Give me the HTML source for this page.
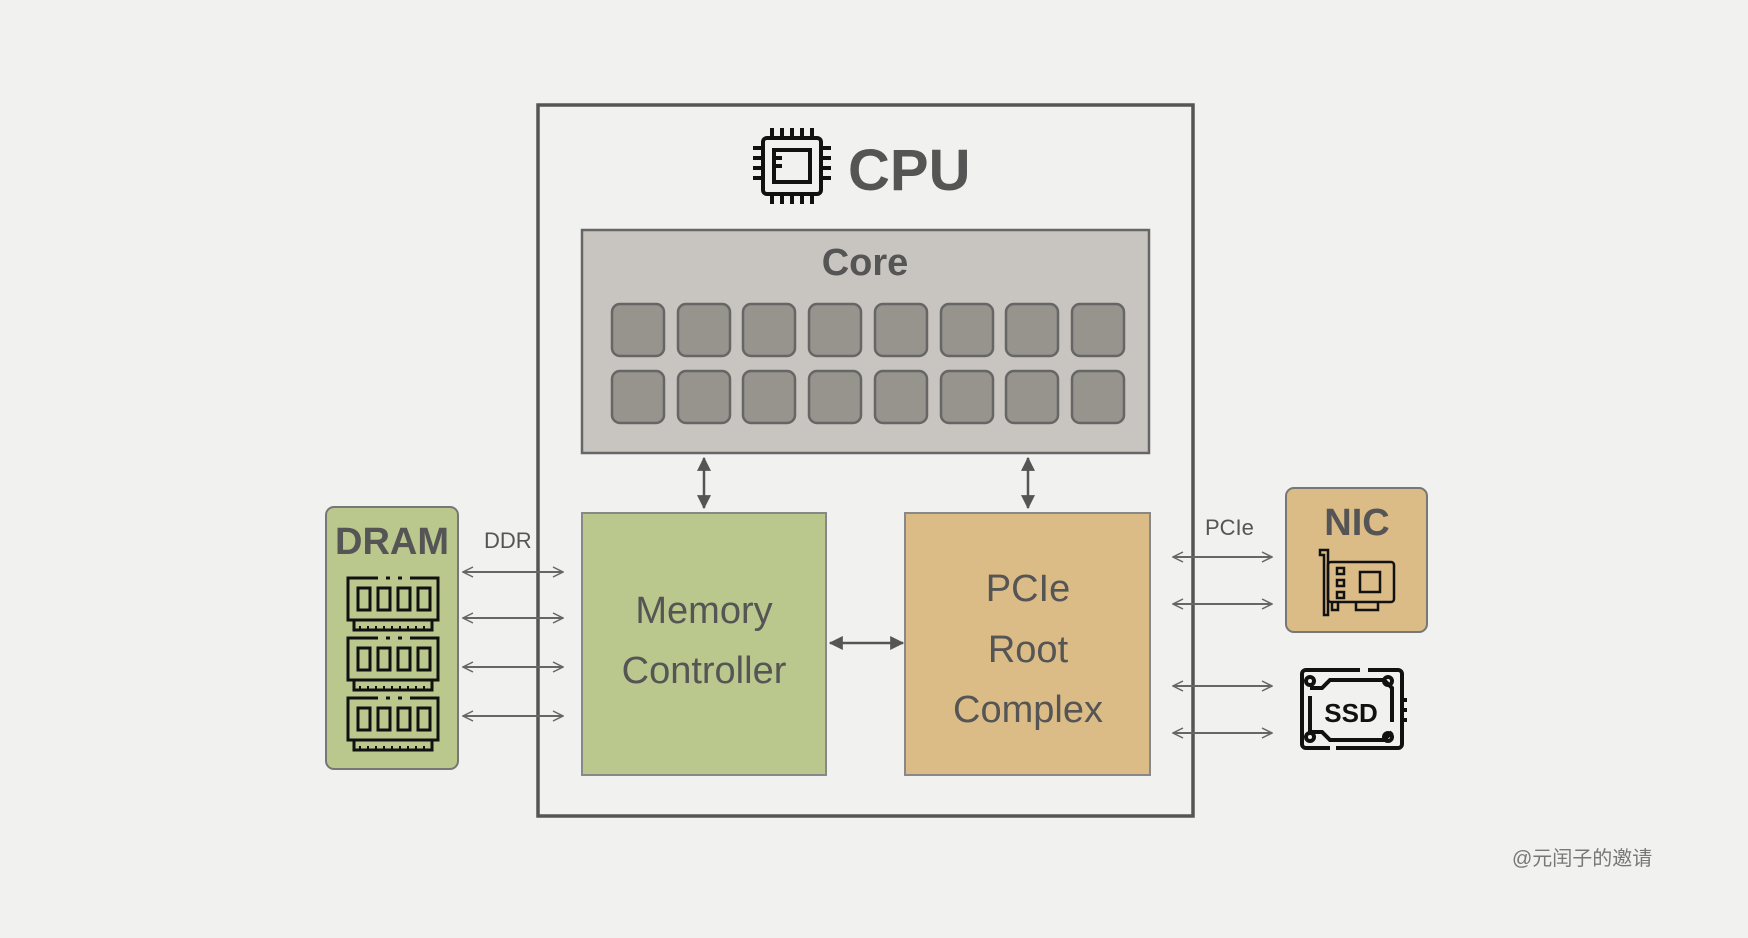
<!DOCTYPE html>
<html><head><meta charset="utf-8"><style>
html,body{margin:0;padding:0;background:#f1f1ef;}
svg{display:block}
text{font-family:"Liberation Sans","Noto Sans CJK SC",sans-serif;fill:#555;}
</style></head><body>
<svg width="1748" height="938" viewBox="0 0 1748 938" xmlns="http://www.w3.org/2000/svg">
<defs>
<marker id="o" viewBox="0 0 12 12" refX="11" refY="6" markerWidth="12" markerHeight="12" markerUnits="userSpaceOnUse" orient="auto-start-reverse"><path d="M1 1 L11 6 L1 11" fill="none" stroke="#666" stroke-width="1.5"/></marker>
<marker id="f" viewBox="0 0 12 12" refX="11" refY="6" markerWidth="14" markerHeight="14" markerUnits="userSpaceOnUse" orient="auto-start-reverse"><path d="M0 0 L12 6 L0 12 Z" fill="#555"/></marker>
<g id="ram">
<path d="M0 4 V0 H30 M38 0 H42 M50 0 H54 M62 0 H90 V42 H0 V4" fill="none" stroke="#111" stroke-width="3"/>
<rect x="10" y="10" width="12" height="22" fill="none" stroke="#111" stroke-width="3"/>
<rect x="30" y="10" width="12" height="22" fill="none" stroke="#111" stroke-width="3"/>
<rect x="50" y="10" width="12" height="22" fill="none" stroke="#111" stroke-width="3"/>
<rect x="70" y="10" width="12" height="22" fill="none" stroke="#111" stroke-width="3"/>
<path d="M6 42 V52 H84 V42" fill="none" stroke="#111" stroke-width="3"/>
<path d="M12 52 v-4 M20 52 v-4 M28 52 v-4 M36 52 v-4 M44 52 v-4 M52 52 v-4 M60 52 v-4 M68 52 v-4 M76 52 v-4" stroke="#111" stroke-width="2"/>
</g>
</defs>

<rect x="538" y="105" width="655" height="711" fill="none" stroke="#555" stroke-width="3.5"/>

<g stroke="#111" stroke-width="4" fill="none">
<rect x="763" y="138" width="58" height="56" rx="4"/>
<rect x="774" y="150" width="36" height="32"/>
<path d="M774 158 h8 M774 166 h8"/>
<path d="M772 128 v10 M782 128 v10 M792 128 v10 M802 128 v10 M812 128 v10 M772 194 v10 M782 194 v10 M792 194 v10 M802 194 v10 M812 194 v10 M753 148 h10 M753 158 h10 M753 168 h10 M753 178 h10 M821 148 h10 M821 158 h10 M821 168 h10 M821 178 h10"/>
</g>
<text x="848" y="190" font-size="58" font-weight="bold">CPU</text>

<rect x="582" y="230" width="567" height="223" fill="#c8c4bf" stroke="#666" stroke-width="2.5"/>
<text x="865" y="275" font-size="38" font-weight="bold" text-anchor="middle">Core</text>
<g fill="#97938d" stroke="#666" stroke-width="2.5">
<rect x="612" y="304" width="52" height="52" rx="8"/><rect x="678" y="304" width="52" height="52" rx="8"/><rect x="743" y="304" width="52" height="52" rx="8"/><rect x="809" y="304" width="52" height="52" rx="8"/><rect x="875" y="304" width="52" height="52" rx="8"/><rect x="941" y="304" width="52" height="52" rx="8"/><rect x="1006" y="304" width="52" height="52" rx="8"/><rect x="1072" y="304" width="52" height="52" rx="8"/>
<rect x="612" y="371" width="52" height="52" rx="8"/><rect x="678" y="371" width="52" height="52" rx="8"/><rect x="743" y="371" width="52" height="52" rx="8"/><rect x="809" y="371" width="52" height="52" rx="8"/><rect x="875" y="371" width="52" height="52" rx="8"/><rect x="941" y="371" width="52" height="52" rx="8"/><rect x="1006" y="371" width="52" height="52" rx="8"/><rect x="1072" y="371" width="52" height="52" rx="8"/>
</g>

<rect x="582" y="513" width="244" height="262" fill="#bac78d" stroke="#888" stroke-width="2"/>
<text x="704" y="623" font-size="38" text-anchor="middle">Memory</text>
<text x="704" y="683" font-size="38" text-anchor="middle">Controller</text>

<rect x="905" y="513" width="245" height="262" fill="#dbbc87" stroke="#888" stroke-width="2"/>
<text x="1028" y="601" font-size="38" text-anchor="middle">PCIe</text>
<text x="1028" y="662" font-size="38" text-anchor="middle">Root</text>
<text x="1028" y="722" font-size="38" text-anchor="middle">Complex</text>

<g stroke="#555" stroke-width="2.5">
<line x1="704" y1="458" x2="704" y2="508" marker-start="url(#f)" marker-end="url(#f)"/>
<line x1="1028" y1="458" x2="1028" y2="508" marker-start="url(#f)" marker-end="url(#f)"/>
<line x1="830" y1="643" x2="903" y2="643" marker-start="url(#f)" marker-end="url(#f)"/>
</g>

<rect x="326" y="507" width="132" height="262" rx="8" fill="#bac78d" stroke="#777" stroke-width="2"/>
<text x="392" y="554" font-size="38" font-weight="bold" text-anchor="middle">DRAM</text>
<use href="#ram" x="348" y="578"/>
<use href="#ram" x="348" y="638"/>
<use href="#ram" x="348" y="698"/>

<text x="484" y="548" font-size="22">DDR</text>
<g stroke="#666" stroke-width="2">
<line x1="463" y1="572" x2="563" y2="572" marker-start="url(#o)" marker-end="url(#o)"/>
<line x1="463" y1="618" x2="563" y2="618" marker-start="url(#o)" marker-end="url(#o)"/>
<line x1="463" y1="667" x2="563" y2="667" marker-start="url(#o)" marker-end="url(#o)"/>
<line x1="463" y1="716" x2="563" y2="716" marker-start="url(#o)" marker-end="url(#o)"/>
</g>

<text x="1205" y="535" font-size="22">PCIe</text>
<g stroke="#666" stroke-width="2">
<line x1="1173" y1="557" x2="1272" y2="557" marker-start="url(#o)" marker-end="url(#o)"/>
<line x1="1173" y1="604" x2="1272" y2="604" marker-start="url(#o)" marker-end="url(#o)"/>
<line x1="1173" y1="686" x2="1272" y2="686" marker-start="url(#o)" marker-end="url(#o)"/>
<line x1="1173" y1="733" x2="1272" y2="733" marker-start="url(#o)" marker-end="url(#o)"/>
</g>

<rect x="1286" y="488" width="141" height="144" rx="8" fill="#dbbc87" stroke="#777" stroke-width="2"/>
<text x="1357" y="535" font-size="38" font-weight="bold" text-anchor="middle">NIC</text>
<g stroke="#111" stroke-width="2.5" fill="none">
<path d="M1320 550 h8 v65 h-4 v-60 h-4 z"/>
<rect x="1328" y="562" width="66" height="40" rx="3"/>
<rect x="1337" y="568" width="7" height="6"/><rect x="1337" y="580" width="7" height="6"/><rect x="1337" y="592" width="7" height="6"/>
<rect x="1360" y="572" width="20" height="20"/>
<path d="M1332 602 v8 h6 v-8 M1356 602 v8 h22 v-8"/>
</g>

<g stroke="#111" stroke-width="4" fill="none">
<path d="M1360 670 H1306 a4 4 0 0 0 -4 4 V744 a4 4 0 0 0 4 4 H1330 M1336 748 H1398 a4 4 0 0 0 4 -4 V674 a4 4 0 0 0 -4 -4 H1368"/>
<path d="M1310 688 h12 l8 -8 h54 l8 8 v34 M1392 732 l-8 8 h-54 l-8 -8 h-12 v-36"/>
<circle cx="1310" cy="681" r="4"/><circle cx="1388" cy="681" r="4"/><circle cx="1310" cy="737" r="4"/><circle cx="1388" cy="737" r="4"/>
<path d="M1402 700 h5 M1402 710 h5 M1402 720 h5"/>
</g>
<text x="1351" y="722" font-size="26" font-weight="bold" text-anchor="middle" style="fill:#111">SSD</text>

<text x="1512" y="865" font-size="20" style="fill:#777">@元闰子的邀请</text>
</svg>
</body></html>
